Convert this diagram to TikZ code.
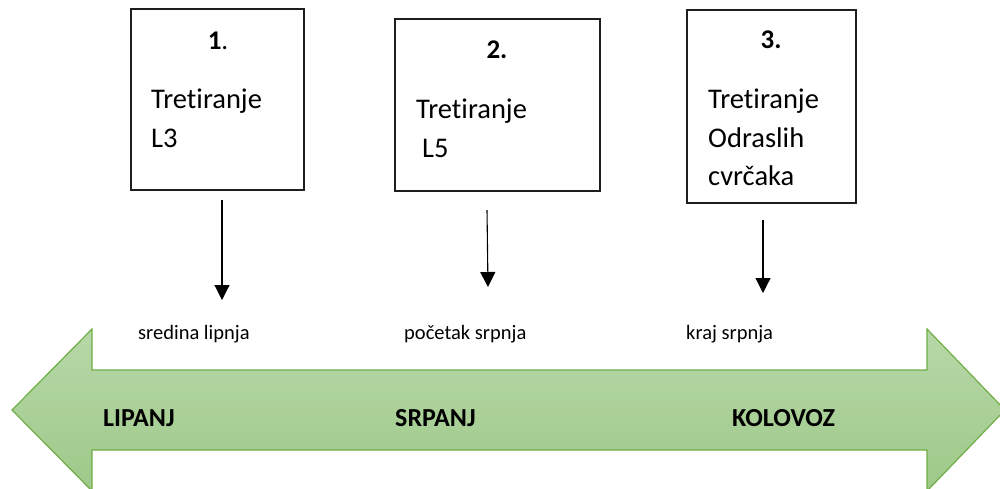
\documentclass[tikz,border=0pt]{standalone}
\usepackage{fontspec}
\setmainfont{Carlito}[Ligatures=NoCommon]
\usetikzlibrary{arrows.meta}
\definecolor{arrowtop}{RGB}{183,216,168}
\definecolor{arrowbot}{RGB}{158,201,137}
\definecolor{arrowline}{RGB}{112,173,71}
\definecolor{boxline}{RGB}{30,30,30}
\tikzset{
  box/.style={draw=boxline, line width=1.2pt, inner sep=0pt},
  boxtxt/.style={anchor=base west, inner sep=0pt, font=\fontsize{28.5}{34}\selectfont},
  numtxt/.style={anchor=base, inner sep=0pt, font=\fontsize{27}{32}\selectfont},
  datetxt/.style={anchor=base west, inner sep=0pt, font=\fontsize{20.5}{24}\selectfont},
  monthtxt/.style={anchor=base west, inner sep=0pt, font=\fontsize{26}{30}\selectfont\bfseries},
  pointer/.style={line width=1.1pt, -{Triangle[width=15pt,length=15pt]}}
}
\begin{document}
\begin{tikzpicture}[x=1pt,y=-1pt]
\useasboundingbox (0,0) rectangle (1000,488);
\clip (0,0) rectangle (1000,488);
% big double arrow
\shade[top color=arrowtop, bottom color=arrowbot, draw=arrowline, line width=1.2pt]
  (12,410) -- (92,329) -- (92,370) -- (927,370) -- (927,329) -- (1005,410)
  -- (927,491) -- (927,450) -- (92,450) -- (92,491) -- cycle;
% boxes
\node[box, minimum width=173pt, minimum height=181pt] (b1) at (217.5,99.5) {};
\node[box, minimum width=205pt, minimum height=172pt] (b2) at (497.5,105) {};
\node[box, minimum width=169pt, minimum height=193pt] (b3) at (771.5,106.5) {};
% box texts
\node[numtxt] (n1) at (218,49) {\textbf{1}.};
\node[boxtxt] (t1a) at (151,108) {Tretiranje};
\node[boxtxt] (t1b) at (151,147) {L3};
\node[numtxt] (n2) at (497,58) {\textbf{2.}};
\node[boxtxt] (t2a) at (416,118) {Tretiranje};
\node[boxtxt] (t2b) at (422,157) {L5};
\node[numtxt] (n3) at (771,48) {\textbf{3.}};
\node[boxtxt] (t3a) at (708,108) {Tretiranje};
\node[boxtxt] (t3b) at (708,147) {Odraslih};
\node[boxtxt] (t3c) at (708,185) {cvrčaka};
% pointers
\coordinate (p1s) at (222,200);
\coordinate (p1e) at (222,300);
\coordinate (p2s) at (487,210);
\coordinate (p2e) at (488,287);
\coordinate (p3s) at (763,220);
\coordinate (p3e) at (763,293);
\draw[pointer] (p1s) -- (p1e);
\draw[pointer] (p2s) -- (p2e);
\draw[pointer] (p3s) -- (p3e);
% date labels
\node[datetxt] (d1) at (138,339) {sredina lipnja};
\node[datetxt] (d2) at (404,339) {početak srpnja};
\node[datetxt] (d3) at (686,339) {kraj srpnja};
% month labels
\node[monthtxt] (m1) at (103,426) {LIPANJ};
\node[monthtxt] (m2) at (395,426) {SRPANJ};
\node[monthtxt] (m3) at (732,426) {KOLOVOZ};
\end{tikzpicture}
\end{document}
